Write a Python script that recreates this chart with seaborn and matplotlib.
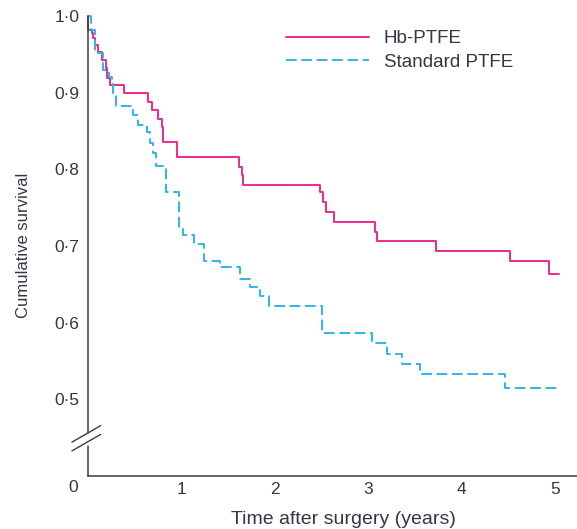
import numpy as np
import pandas as pd
import matplotlib
matplotlib.use("Agg")
import matplotlib.pyplot as plt
import seaborn as sns

# Kaplan-Meier step estimates (time in years, cumulative survival)
hb_time = [0.0, 0.005, 0.04, 0.057, 0.08, 0.107, 0.153, 0.19, 0.20, 0.235, 0.385,
           0.646, 0.68, 0.75, 0.79, 0.806, 0.95, 1.62, 1.645, 1.66, 2.48, 2.52,
           2.55, 2.63, 3.07, 3.09, 3.73, 4.52, 4.94, 5.04]
hb_surv = [1.0, 0.982, 0.978, 0.971, 0.962, 0.953, 0.942, 0.932, 0.919, 0.910, 0.899,
           0.888, 0.877, 0.866, 0.855, 0.836, 0.816, 0.803, 0.792, 0.780, 0.770, 0.757,
           0.745, 0.731, 0.718, 0.706, 0.693, 0.680, 0.663, 0.663]

std_time = [0.0, 0.03, 0.08, 0.16, 0.22, 0.255, 0.27, 0.30, 0.48, 0.54, 0.63, 0.66,
            0.70, 0.73, 0.84, 0.97, 1.02, 1.13, 1.24, 1.41, 1.63, 1.73, 1.84, 1.94,
            2.51, 3.04, 3.20, 3.36, 3.55, 4.47, 5.04]
std_surv = [1.0, 0.982, 0.952, 0.930, 0.921, 0.912, 0.900, 0.882, 0.871, 0.858, 0.849, 0.834,
            0.821, 0.805, 0.770, 0.725, 0.714, 0.703, 0.681, 0.672, 0.657, 0.646, 0.635, 0.622,
            0.587, 0.574, 0.559, 0.546, 0.533, 0.515, 0.515]

group_names = ["Hb-PTFE", "Standard PTFE"]
y_ticks = [0.5, 0.6, 0.7, 0.8, 0.9, 1.0]
y_tick_labels = ["0\u00b75", "0\u00b76", "0\u00b77", "0\u00b78", "0\u00b79", "1\u00b70"]
x_ticks = [1, 2, 3, 4, 5]
x_tick_labels = ["1", "2", "3", "4", "5"]

MAGENTA = "#ec2a8e"
CYAN = "#2cb5ec"
AXIS = "#3c3c3c"
TEXT = "#35354a"

sns.set_style("white")
plt.rcParams["font.family"] = ["Liberation Sans", "DejaVu Sans"]

fig = plt.figure(figsize=(5.77, 5.29), dpi=100)
ax = fig.add_axes([88 / 577, 53 / 529, 489 / 577, 460 / 529])

# Broken y-axis: 0..0.5 is squeezed into one tenth of the linear span
def fwd(y):
    y = np.asarray(y, dtype=float)
    return np.where(y < 0.5, 0.4 + 0.2 * y, y)

def inv(f):
    f = np.asarray(f, dtype=float)
    return np.where(f < 0.5, (f - 0.4) / 0.2, f)

ax.set_yscale("function", functions=(fwd, inv))

hb = pd.DataFrame({"time": hb_time, "survival": hb_surv})
std = pd.DataFrame({"time": std_time, "survival": std_surv})

sns.lineplot(data=hb, x="time", y="survival", ax=ax, estimator=None,
             drawstyle="steps-post", color=MAGENTA, lw=1.4, label=group_names[0],
             clip_on=False)
sns.lineplot(data=std, x="time", y="survival", ax=ax, estimator=None,
             drawstyle="steps-post", color=CYAN, lw=1.4, label=group_names[1],
             dashes=(5.5, 2.4), clip_on=False)

ax.set_xlim(0, 489 / 93.4)
ax.set_ylim(0, 1.0)

ax.set_xticks(x_ticks)
ax.set_xticklabels(x_tick_labels)
ax.set_yticks(y_ticks)
ax.set_yticklabels(y_tick_labels)
ax.minorticks_off()

ax.tick_params(axis="y", direction="in", length=9, width=1.1, color=AXIS,
               labelsize=12.5, labelcolor=TEXT, pad=6)
ax.tick_params(axis="x", direction="in", length=6.5, width=1.1, color=AXIS,
               labelsize=12.5, labelcolor=TEXT, pad=4)

for side in ["top", "right", "left"]:
    ax.spines[side].set_visible(False)
ax.spines["bottom"].set_color(AXIS)
ax.spines["bottom"].set_linewidth(1.1)

# Left axis drawn in two pieces around the break
ax.plot([0, 0], [0, 0.066], transform=ax.transAxes, color=AXIS, lw=1.1, clip_on=False)
ax.plot([0, 0], [0.094, 1.0], transform=ax.transAxes, color=AXIS, lw=1.1, clip_on=False)
for yc in (0.0915, 0.0725):
    ax.plot([-0.033, 0.026], [yc - 0.018, yc + 0.018], transform=ax.transAxes,
            color=AXIS, lw=1.0, clip_on=False)

ax.text(-0.031, -0.026, "0", transform=ax.transAxes, ha="center", va="center",
        fontsize=12.5, color=TEXT)

ax.set_xlabel("Time after surgery (years)", fontsize=14, color=TEXT)
ax.xaxis.set_label_coords((343 - 88) / 489, -(511 - 476) / 460)
ax.set_ylabel("Cumulative survival", fontsize=12, color=TEXT)
ax.yaxis.set_label_coords(-(88 - 31) / 489, (476 - 245) / 460)

leg = ax.legend(loc="upper left", bbox_to_anchor=((286 - 88) / 489, (476 - 30) / 460),
                frameon=False, fontsize=13.5, handlelength=4.4, handletextpad=0.8,
                labelspacing=0.36, borderpad=0, borderaxespad=0)
for t in leg.get_texts():
    t.set_color(TEXT)

fig.savefig("out.png", dpi=100, facecolor="white")
